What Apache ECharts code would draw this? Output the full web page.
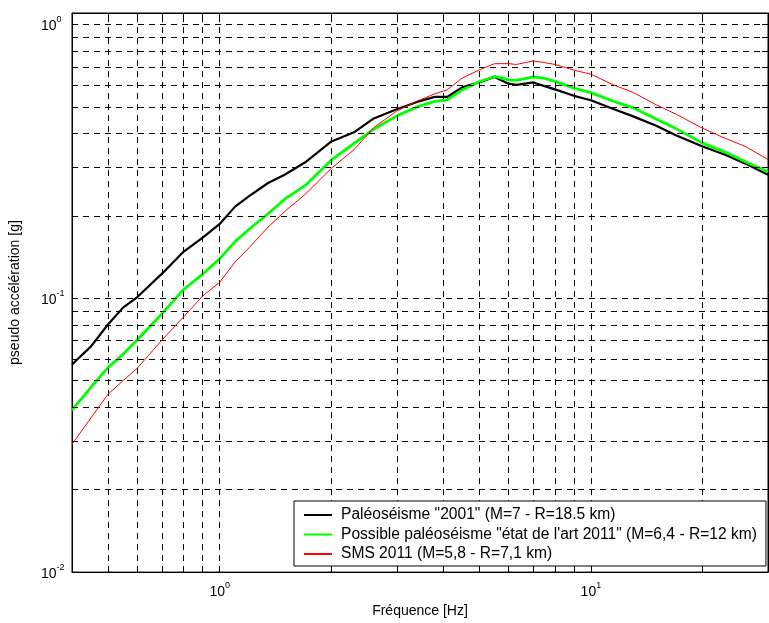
<!DOCTYPE html>
<html>
<head>
<meta charset="utf-8">
<script src="https://cdn.jsdelivr.net/npm/echarts@6/dist/echarts.min.js"></script>
<style>
  html, body { margin: 0; padding: 0; background: #fff; }
  #chart { width: 769px; height: 623px; }
</style>
</head>
<body>
<div id="chart"></div>
<script>
// fréquences [Hz] communes aux trois spectres
const freq = [0.4, 0.45, 0.5, 0.55, 0.6, 0.7, 0.8, 0.9, 1.0, 1.1, 1.2, 1.35, 1.5, 1.7, 2.0, 2.3, 2.6, 3.0, 3.4, 3.8,
    4.1, 4.5, 5.0, 5.5, 6.0, 6.3, 7.0, 7.5, 8.0, 9.0, 10, 11.5, 13, 15, 17, 20, 23, 26, 30];

const paleo2001 = [0.0573, 0.0667, 0.0802, 0.0926, 0.101, 0.1232, 0.148, 0.1664, 0.1867, 0.216, 0.236, 0.2634, 0.2829,
    0.3136, 0.3735, 0.4034, 0.4533, 0.4899, 0.5209, 0.5433, 0.543, 0.5888, 0.614, 0.6427, 0.6071, 0.601, 0.6136,
    0.5948, 0.5787, 0.5483, 0.5284, 0.4904, 0.4613, 0.426, 0.3927, 0.3578, 0.334, 0.3107, 0.2824];

const paleo2011 = [0.039, 0.0473, 0.0558, 0.0626, 0.0705, 0.088, 0.1076, 0.1225, 0.1392, 0.1609, 0.1786, 0.2034, 0.2305,
    0.2581, 0.3197, 0.3672, 0.414, 0.4632, 0.4995, 0.5232, 0.5298, 0.5763, 0.6172, 0.6452, 0.6266, 0.624, 0.6427,
    0.6346, 0.6188, 0.5847, 0.5632, 0.524, 0.4955, 0.4513, 0.4153, 0.3684, 0.3416, 0.3155, 0.2896];

const sms2011 = [0.0293, 0.0366, 0.0446, 0.0501, 0.0556, 0.0705, 0.0856, 0.1019, 0.1144, 0.1356, 0.1529, 0.1819, 0.208,
    0.2397, 0.2982, 0.3486, 0.4196, 0.4826, 0.5241, 0.5577, 0.5767, 0.6362, 0.6816, 0.7185, 0.7185, 0.7137, 0.7351,
    0.7247, 0.7137, 0.6804, 0.6575, 0.601, 0.5642, 0.5081, 0.4692, 0.4171, 0.3836, 0.3587, 0.3211];

const seriesNames = [
    'Paléoséisme "2001" (M=7 - R=18.5 km)',
    'Possible paléoséisme "état de l\'art 2011" (M=6,4 - R=12 km)',
    'SMS 2011 (M=5,8 - R=7,1 km)'
];

// graduations (grille et ticks)
const xTicks = [0.5, 0.6, 0.7, 0.8, 0.9, 1, 2, 3, 4, 5, 6, 7, 8, 9, 10, 20];
const yTicks = [0.02, 0.03, 0.04, 0.05, 0.06, 0.07, 0.08, 0.09, 0.1, 0.2, 0.3, 0.4, 0.5, 0.6, 0.7, 0.8, 0.9, 1];
const xLabels = [1, 10];
const yLabels = [0.01, 0.1, 1];

const FONT = '"Liberation Sans", Arial, Helvetica, sans-serif';

const chart = echarts.init(document.getElementById('chart'));

const pow10 = (v) => {
    const e = Math.round(Math.log10(v));
    return '{b|10}{s|' + e + '}';
};
const rich = {
    b: { fontSize: 14, fontFamily: FONT, color: '#000', verticalAlign: 'bottom', lineHeight: 18 },
    s: { fontSize: 9, fontFamily: FONT, color: '#000', verticalAlign: 'bottom', lineHeight: 18, padding: [0, 0, 9, 0] }
};

const pairs = (vals) => freq.map((f, i) => [f, vals[i]]);

const gridDash = { type: [6, 5], color: '#000', width: 1 };

const option = {
    backgroundColor: '#fff',
    animation: false,
    grid: { left: 69, right: 1, top: 13, bottom: 50, show: true, borderColor: '#000', borderWidth: 1, backgroundColor: '#fff' },
    legend: {
        data: seriesNames,
        orient: 'vertical',
        left: 294,
        top: 501,
        z: 100,
        padding: [6, 9, 4, 9],
        itemWidth: 28,
        itemHeight: 14,
        itemGap: 3.5,
        backgroundColor: '#fff',
        borderColor: '#000',
        borderWidth: 1,
        borderRadius: 0,
        itemStyle: { color: 'rgba(0,0,0,0)', borderColor: 'rgba(0,0,0,0)', borderWidth: 0, opacity: 0 },
        textStyle: { fontSize: 15.6, lineHeight: 14, height: 14, fontFamily: FONT, color: '#000', padding: [0, 0, 0, 4] }
    },
    xAxis: [{
        type: 'log',
        logBase: 10,
        min: 0.4,
        max: 30,
        name: 'Fréquence [Hz]',
        nameLocation: 'middle',
        nameGap: 25,
        nameTextStyle: { fontSize: 14, fontFamily: FONT, color: '#000' },
        axisLine: { lineStyle: { color: '#000', width: 1 } },
        axisTick: { inside: true, length: 6, customValues: xTicks, lineStyle: { color: '#000' } },
        axisLabel: { customValues: xLabels, formatter: pow10, rich: rich, margin: 9 },
        splitLine: { show: false }
    }, {
        type: 'log',
        logBase: 10,
        min: 0.4,
        max: 30,
        position: 'top',
        axisLine: { lineStyle: { color: '#000', width: 1 } },
        axisTick: { inside: true, length: 6, customValues: xTicks, lineStyle: { color: '#000' } },
        axisLabel: { show: false },
        splitLine: { show: false }
    }],
    yAxis: [{
        type: 'log',
        logBase: 10,
        min: 0.01,
        max: 1.1,
        name: 'pseudo accélération [g]',
        nameLocation: 'middle',
        nameGap: 50,
        nameTextStyle: { fontSize: 14, fontFamily: FONT, color: '#000' },
        axisLine: { lineStyle: { color: '#000', width: 1 } },
        axisTick: { inside: true, length: 6, customValues: yTicks, lineStyle: { color: '#000' } },
        axisLabel: { customValues: yLabels, formatter: pow10, rich: rich, align: 'left', margin: 31 },
        splitLine: { show: false }
    }, {
        type: 'log',
        logBase: 10,
        min: 0.01,
        max: 1.1,
        position: 'right',
        axisLine: { lineStyle: { color: '#000', width: 1 } },
        axisTick: { inside: true, length: 6, customValues: yTicks, lineStyle: { color: '#000' } },
        axisLabel: { show: false },
        splitLine: { show: false }
    }],
    series: [
        {
            name: 'grille',
            type: 'line',
            data: [],
            z: 1,
            silent: true,
            markLine: {
                silent: true,
                symbol: ['none', 'none'],
                label: { show: false },
                lineStyle: gridDash,
                emphasis: { disabled: true },
                data: xTicks.map((v) => ({ xAxis: v })).concat(yTicks.map((v) => ({ yAxis: v })))
            }
        },
        {
            name: seriesNames[0],
            type: 'line',
            data: pairs(paleo2001),
            symbol: 'none',
            z: 3,
            lineStyle: { color: '#000', width: 2.2 },
            itemStyle: { color: '#000' }
        },
        {
            name: seriesNames[1],
            type: 'line',
            data: pairs(paleo2011),
            symbol: 'none',
            z: 4,
            lineStyle: { color: '#00ff00', width: 2.8 },
            itemStyle: { color: '#00ff00' }
        },
        {
            name: seriesNames[2],
            type: 'line',
            data: pairs(sms2011),
            symbol: 'none',
            z: 5,
            lineStyle: { color: '#ff0000', width: 1 },
            itemStyle: { color: '#ff0000' }
        }
    ]
};

chart.setOption(option);
</script>
</body>
</html>
